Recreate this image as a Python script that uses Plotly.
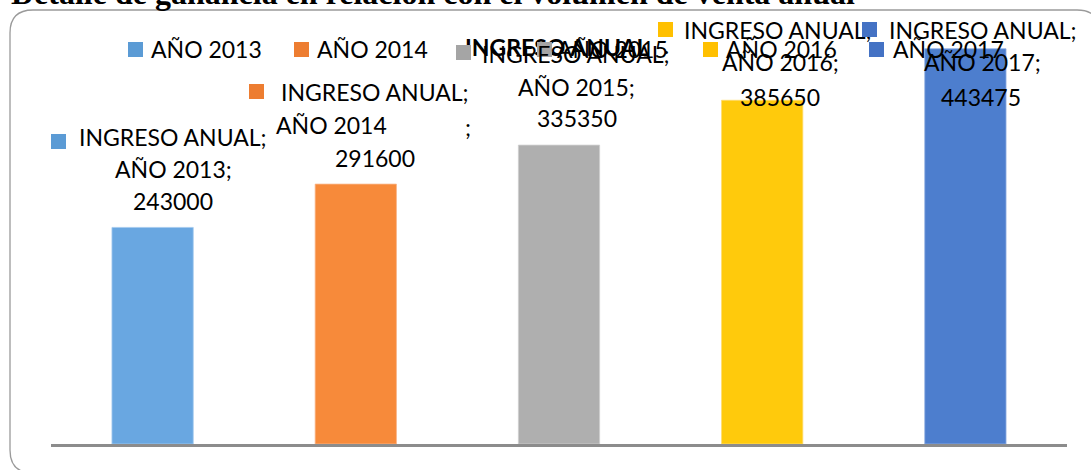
import plotly.graph_objects as go

# ---- data ----
categories = ["AÑO 2013", "AÑO 2014", "AÑO 2015", "AÑO 2016", "AÑO 2017"]
ingreso = [243000, 291600, 335350, 385650, 443475]
series_name = "INGRESO ANUAL"
bar_colors = ["#69A7E1", "#F78A3A", "#AFAFAF", "#FFCA0C", "#4D7ECE"]
bar_edge_colors = ["#A3C9EE", "#F9B58A", "#CFCFCF", "#FFDC6E", "#92AEE2"]
key_colors = ["#5B9BD5", "#ED7D31", "#A5A5A5", "#FFC000", "#4472C4"]
main_title = "Detalle de ganancia en relación con el volumen de venta anual"

W, H = 1091, 470
def PX(x): return x / W
def PY(y): return 1 - y / H

FONT = "Lato"
FS = 23
TXT = "#000000"

fig = go.Figure()
fig.add_trace(go.Bar(x=categories, y=ingreso,
                     marker=dict(color=bar_colors, line=dict(width=0.8, color=bar_edge_colors)),
                     width=0.4, showlegend=False, hoverinfo="skip"))

ann = []
shapes = []

# outer title (clipped at top)
ann.append(dict(xref="paper", yref="paper", x=PX(9), y=PY(-7.5), xanchor="left", yanchor="middle",
                text="<b>" + main_title + "</b>", showarrow=False,
                font=dict(family="Liberation Serif", size=32, color=TXT)))

# rounded border (only the parts that fall inside the picture)
L, T, R, B, r = 10, 10, 1100, 473, 23
path = (f"M {PX(R)},{PY(T+r)} Q {PX(R)},{PY(T)} {PX(R-r)},{PY(T)} "
        f"L {PX(L+r)},{PY(T)} Q {PX(L)},{PY(T)} {PX(L)},{PY(T+r)} "
        f"L {PX(L)},{PY(B-r)} Q {PX(L)},{PY(B)} {PX(L+r)},{PY(B)}")
shapes.append(dict(type="path", xref="paper", yref="paper", path=path,
                   line=dict(color="#9a9a9a", width=1.3), fillcolor="rgba(0,0,0,0)"))

# chart title (bold, overlapping legend)
ann.append(dict(xref="paper", yref="paper", x=PX(557), y=PY(47), xanchor="center", yanchor="middle",
                text="<b>" + series_name + "</b>", showarrow=False,
                font=dict(family=FONT, size=FS, color=TXT)))

def square(xref, yref, x, y, color, xshift=0, yshift=0):
    return dict(xref=xref, yref=yref, x=x, y=y, xshift=xshift, yshift=yshift,
                xanchor="center", yanchor="middle", text=" ", showarrow=False,
                width=15, height=15, bgcolor=color, borderpad=0, borderwidth=0,
                font=dict(size=6))

# legend
legend_sq_x = [135.5, 301.5, 544.5, 710.5, 876]
legend_txt_x = [149, 315, 555, 724, 891]
for i, c in enumerate(categories):
    ann.append(square("paper", "paper", PX(legend_sq_x[i]), PY(49.5), key_colors[i]))
    ann.append(dict(xref="paper", yref="paper", x=PX(legend_txt_x[i]), y=PY(49), xanchor="left",
                    yanchor="middle", text=c, showarrow=False,
                    font=dict(family=FONT, size=FS, color=TXT)))

# data labels: (square dx, dy), then lines (text, dx, dy); dy = px up from bar top
label_layout = [
    ((-94, 86.4), [("{s};", 20.4, 90.4), ("{c};", 20.4, 58.4), ("{v}", 20.4, 26.4)]),
    ((-99, 92.6), [("{s};", 19, 92), ("{c}", -24, 59), (";", 112, 57), ("{v}", 19, 26)]),
    ((-95.5, 93), [("{s};", 17, 91), ("{c};", 17, 58), ("{v}", 18, 27)]),
    ((-96.7, 70.8), [("{s};", 16, 70), ("{c};", 18, 38), ("{v}", 18, 3)]),
    ((-96.4, 19.2), [("{s};", 17.6, 18.7), ("{c};", 17, -13.3), ("{v}", 16, -48.3)]),
]
for i, c in enumerate(categories):
    (sdx, sdy), lines = label_layout[i]
    for (t, dx, dy) in lines:
        ann.append(dict(xref="x", yref="y", x=c, y=ingreso[i], xshift=dx, yshift=dy,
                        xanchor="center", yanchor="middle", showarrow=False,
                        text=t.format(s=series_name, c=c, v=ingreso[i]),
                        font=dict(family=FONT, size=FS, color=TXT)))
    ann.append(square("x", "y", c, ingreso[i], key_colors[i], sdx, sdy))

fig.update_layout(
    width=W, height=H, margin=dict(l=0, r=0, t=0, b=0),
    paper_bgcolor="white", plot_bgcolor="white",
    bargap=0.6,
    xaxis=dict(domain=[PX(51), PX(1067)], range=[-0.5, len(categories) - 0.5], autorange=False,
               showline=True, linecolor="#8c8c8c", linewidth=2.5,
               showticklabels=False, ticks="", showgrid=False, zeroline=False, fixedrange=True),
    yaxis=dict(domain=[PY(444), 1], range=[0, 444 * 1122], autorange=False, visible=False,
               showgrid=False, zeroline=False, fixedrange=True),
    annotations=ann, shapes=shapes, showlegend=False,
)

fig.write_html("out.html", config={"displayModeBar": False, "responsive": False},
               post_script="document.body.style.margin='0px';document.body.style.overflow='hidden';")
